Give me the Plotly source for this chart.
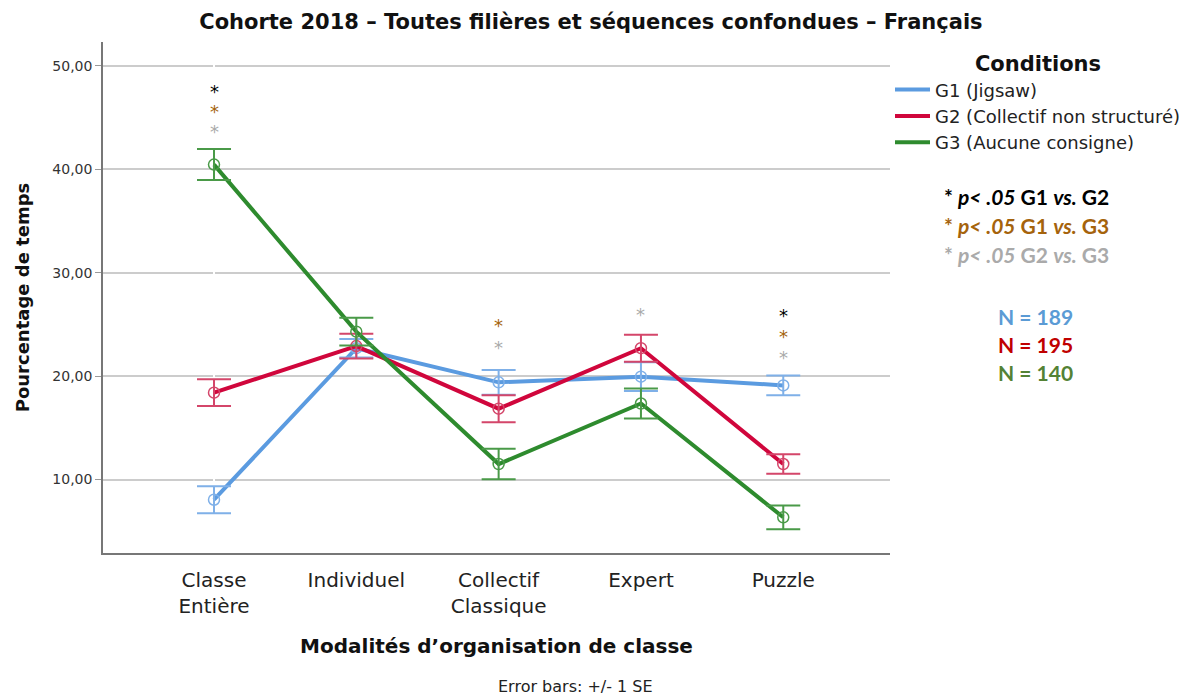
import plotly.graph_objects as go

categories = ["Classe<br>Entière", "Individuel", "Collectif<br>Classique", "Expert", "Puzzle"]
groups = ["G1 (Jigsaw)", "G2 (Collectif non structuré)", "G3 (Aucune consigne)"]

g1_mean = [8.05, 22.7, 19.4, 19.95, 19.1]
g1_se = [1.3, 0.9, 1.2, 1.4, 0.95]
g2_mean = [18.4, 22.9, 16.85, 22.7, 11.5]
g2_se = [1.3, 1.2, 1.3, 1.3, 0.95]
g3_mean = [40.45, 24.3, 11.5, 17.35, 6.35]
g3_se = [1.5, 1.35, 1.48, 1.45, 1.15]

# significance stars: (category index, y value, which comparison)
stars_cat = [0, 0, 0, 2, 2, 3, 4, 4, 4]
stars_y = [47.5, 45.6, 43.6, 24.9, 22.75, 26.0, 25.9, 23.8, 21.8]
stars_kind = ["12", "13", "23", "13", "23", "23", "12", "13", "23"]

n_labels = ["N = 189", "N = 195", "N = 140"]

line_cols = ["#5b9be0", "#d0063c", "#2e8b2e"]
err_cols = ["#7fb0e8", "#d4466a", "#4a9a48"]
star_cols = {"12": "#000000", "13": "#a5630c", "23": "#aaaaaa"}
n_cols = ["#5b9bd5", "#c00000", "#548235"]

FONT = "DejaVu Sans"
xs = list(range(len(categories)))

fig = go.Figure()
for name, m, se, lc, ec in zip(groups, [g1_mean, g2_mean, g3_mean], [g1_se, g2_se, g3_se], line_cols, err_cols):
    fig.add_trace(go.Scatter(x=xs, y=m, name=name, legendgroup=name, mode="lines",
                             line=dict(color=lc, width=4)))
    fig.add_trace(go.Scatter(x=xs, y=m, name=name, legendgroup=name, mode="markers", showlegend=False,
                             marker=dict(symbol="circle-open", size=11, color=ec, line=dict(width=1.5)),
                             error_y=dict(type="data", array=se, color=ec, thickness=2, width=17)))

for c, y, k in zip(stars_cat, stars_y, stars_kind):
    fig.add_annotation(x=c, y=y, text="*", showarrow=False,
                       font=dict(family=FONT, size=18, color=star_cols[k]))

# right side notes
notes = [("<b>* <i>p< .05</i> G1 <i>vs.</i> G2</b>", "12"),
         ("<b>* <i>p< .05</i> G1 <i>vs.</i> G3</b>", "13"),
         ("<b>* <i>p< .05</i> G2 <i>vs.</i> G3</b>", "23")]
for i, (t, k) in enumerate(notes):
    fig.add_annotation(xref="paper", yref="paper", x=1.174, y=(553 - 196 - 29 * i) / 511,
                       text=t, showarrow=False, xanchor="center", yanchor="middle",
                       font=dict(family="Lato", size=21, color=star_cols[k]))
for i, t in enumerate(n_labels):
    fig.add_annotation(xref="paper", yref="paper", x=1.185, y=(553 - 316 - 28 * i) / 511,
                       text="<b>" + t + "</b>", showarrow=False, xanchor="center", yanchor="middle",
                       font=dict(family="Lato", size=21, color=n_cols[i]))

fig.add_annotation(xref="paper", yref="paper", x=(575 - 103) / 787, y=-(686 - 553) / 511,
                   text="Error bars: +/- 1 SE", showarrow=False, xanchor="center", yanchor="middle",
                   font=dict(family=FONT, size=16, color="#222"))

fig.update_layout(
    width=1189, height=695,
    margin=dict(l=103, r=299, t=42, b=142, autoexpand=False),
    paper_bgcolor="white", plot_bgcolor="white",
    separators=", ",
    font=dict(family=FONT, color="#222"),
    title=dict(text="<b>Cohorte 2018 – Toutes filières et séquences confondues – Français</b>",
               x=0.497, xanchor="center", y=(695 - 22) / 695, yanchor="middle",
               font=dict(family=FONT, size=21, color="#111")),
    legend=dict(x=1.0, y=0.996, xanchor="left", yanchor="top",
                title=dict(text="<b>Conditions</b>", side="top center",
                           font=dict(family=FONT, size=21, color="#111")),
                font=dict(family=FONT, size=18, color="#222"),
                itemwidth=35, tracegroupgap=0, bgcolor="rgba(0,0,0,0)"),
    showlegend=True,
)
fig.update_xaxes(range=[-0.78, 4.75], tickvals=xs, ticktext=categories,
                 showgrid=False, showline=True, linecolor="#777", linewidth=1.5, ticks="",
                 ticklabelstandoff=8,
                 tickfont=dict(family=FONT, size=20, color="#222"),
                 title=dict(text="<b>Modalités d’organisation de classe</b>", standoff=22,
                            font=dict(family=FONT, size=20, color="#111")))
fig.update_yaxes(range=[2.9, 52.3], tickvals=[10, 20, 30, 40, 50], tickformat=".2f",
                 showgrid=True, gridcolor="#cccccc", gridwidth=2, zeroline=False,
                 showline=True, linecolor="#777", linewidth=1.5,
                 ticks="outside", ticklen=6, tickcolor="#999", tickwidth=1,
                 tickfont=dict(family=FONT, size=14, color="#333"),
                 title=dict(text="<b>Pourcentage de temps</b>", standoff=18,
                            font=dict(family=FONT, size=18, color="#111")))

fig.write_html("out.html", config={"displayModeBar": False},
               post_script="document.body.style.margin='0';")
